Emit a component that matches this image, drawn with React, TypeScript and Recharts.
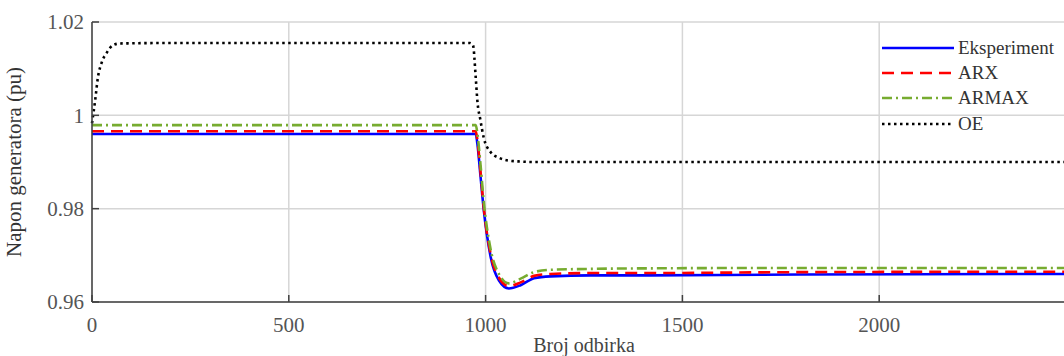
import { CartesianGrid, Legend, Line, LineChart, XAxis, YAxis } from "recharts"

// sample index (Broj odbirka) and generator voltage (pu)
const samples = [0, 8, 15, 25, 38, 53, 71, 200, 960, 968, 975, 979, 987, 995, 1013, 1034, 1059, 1089, 1123, 1165, 1267, 1394, 1800, 2500]
const experiment = [0.996, 0.996, 0.996, 0.996, 0.996, 0.996, 0.996, 0.996, 0.996, 0.996, 0.996, 0.994, 0.987, 0.98, 0.9696, 0.9646, 0.9629, 0.9636, 0.9651, 0.9655, 0.9657, 0.9657, 0.9659, 0.966]
const arx = [0.9966, 0.9966, 0.9966, 0.9966, 0.9966, 0.9966, 0.9966, 0.9966, 0.9966, 0.9966, 0.9966, 0.9948, 0.988, 0.9805, 0.9702, 0.9652, 0.9634, 0.9642, 0.9656, 0.966, 0.9662, 0.9662, 0.9664, 0.9665]
const armax = [0.9979, 0.9979, 0.9979, 0.9979, 0.9979, 0.9979, 0.9979, 0.9979, 0.9979, 0.9979, 0.9979, 0.9962, 0.9895, 0.9818, 0.9712, 0.966, 0.964, 0.965, 0.9664, 0.9669, 0.9671, 0.9672, 0.9673, 0.9673]
const oe = [0.9983, 1.0032, 1.0081, 1.0114, 1.0135, 1.015, 1.0154, 1.0155, 1.0155, 1.015, 1.008, 1.0032, 0.9989, 0.9953, 0.9921, 0.9909, 0.9903, 0.9901, 0.99, 0.99, 0.99, 0.99, 0.99, 0.99]

const xTicks = [0, 500, 1000, 1500, 2000]
const yTicks = [0.96, 0.98, 1, 1.02]

const seriesNames = ["Eksperiment", "ARX", "ARMAX", "OE"]

const chartData = samples.map((x, i) => ({
  x,
  exp: experiment[i],
  arx: arx[i],
  armax: armax[i],
  oe: oe[i],
}))

const font = "'Liberation Serif', 'Times New Roman', serif"

const styles = [
  { key: "exp", color: "#0000ff", dash: undefined as string | undefined },
  { key: "arx", color: "#ff0000", dash: "12 7" },
  { key: "armax", color: "#77ac30", dash: "10 4 2 4" },
  { key: "oe", color: "#000000", dash: "2.5 3.5" },
]

const LegendBox = () => (
  <div style={{ fontFamily: font, fontSize: 19, color: "#333" }}>
    {seriesNames.map((name, i) => (
      <div key={name} style={{ display: "flex", alignItems: "center", height: 25.3, whiteSpace: "nowrap" }}>
        <svg width={76} height={10}>
          <line x1={2} y1={5} x2={74} y2={5} stroke={styles[i].color} strokeWidth={2.6} strokeDasharray={styles[i].dash} />
        </svg>
        <span style={{ marginLeft: 2 }}>{name}</span>
      </div>
    ))}
  </div>
)

export default function App() {
  return (
    <div style={{ position: "absolute", left: 0, top: 0, width: 1064, height: 356, overflow: "hidden", background: "#fff" }}>
      <LineChart width={1076} height={356} data={chartData} margin={{ top: 22, right: 0, left: 0, bottom: 0 }}>
        <CartesianGrid stroke="#d6d6d6" strokeWidth={1.5} />
        <XAxis
          dataKey="x"
          type="number"
          domain={[0, 2500]}
          ticks={xTicks}
          height={54}
          tickSize={-7}
          tickMargin={22}
          stroke="#404040"
          strokeWidth={1.5}
          tick={{ fill: "#555", fontSize: 21, fontFamily: font }}
          label={{ value: "Broj odbirka", position: "insideBottom", offset: 4, fill: "#444", fontSize: 20, fontFamily: font }}
        />
        <XAxis
          xAxisId="top"
          dataKey="x"
          type="number"
          orientation="top"
          domain={[0, 2500]}
          ticks={xTicks}
          height={0}
          tickSize={-7}
          tick={false}
          stroke="#404040"
          strokeWidth={1.5}
        />
        <YAxis
          type="number"
          domain={[0.96, 1.02]}
          ticks={yTicks}
          width={92}
          tickSize={-7}
          tickMargin={15}
          stroke="#404040"
          strokeWidth={1.5}
          tick={{ fill: "#555", fontSize: 21, fontFamily: font }}
          label={{ value: "Napon generatora (pu)", angle: -90, position: "insideLeft", offset: 14, fill: "#333", fontSize: 21, fontFamily: font, style: { textAnchor: "middle" } }}
        />
        <Legend
          layout="horizontal"
          verticalAlign="middle"
          align="center"
          content={<LegendBox />}
          wrapperStyle={{ position: "absolute", left: 880, top: 35, width: 200 }}
        />
        {styles.map((s, i) => (
          <Line
            key={s.key}
            name={seriesNames[i]}
            dataKey={s.key}
            type="monotone"
            stroke={s.color}
            strokeWidth={2.6}
            strokeDasharray={s.dash}
            dot={false}
            isAnimationActive={false}
          />
        ))}
      </LineChart>
    </div>
  )
}
